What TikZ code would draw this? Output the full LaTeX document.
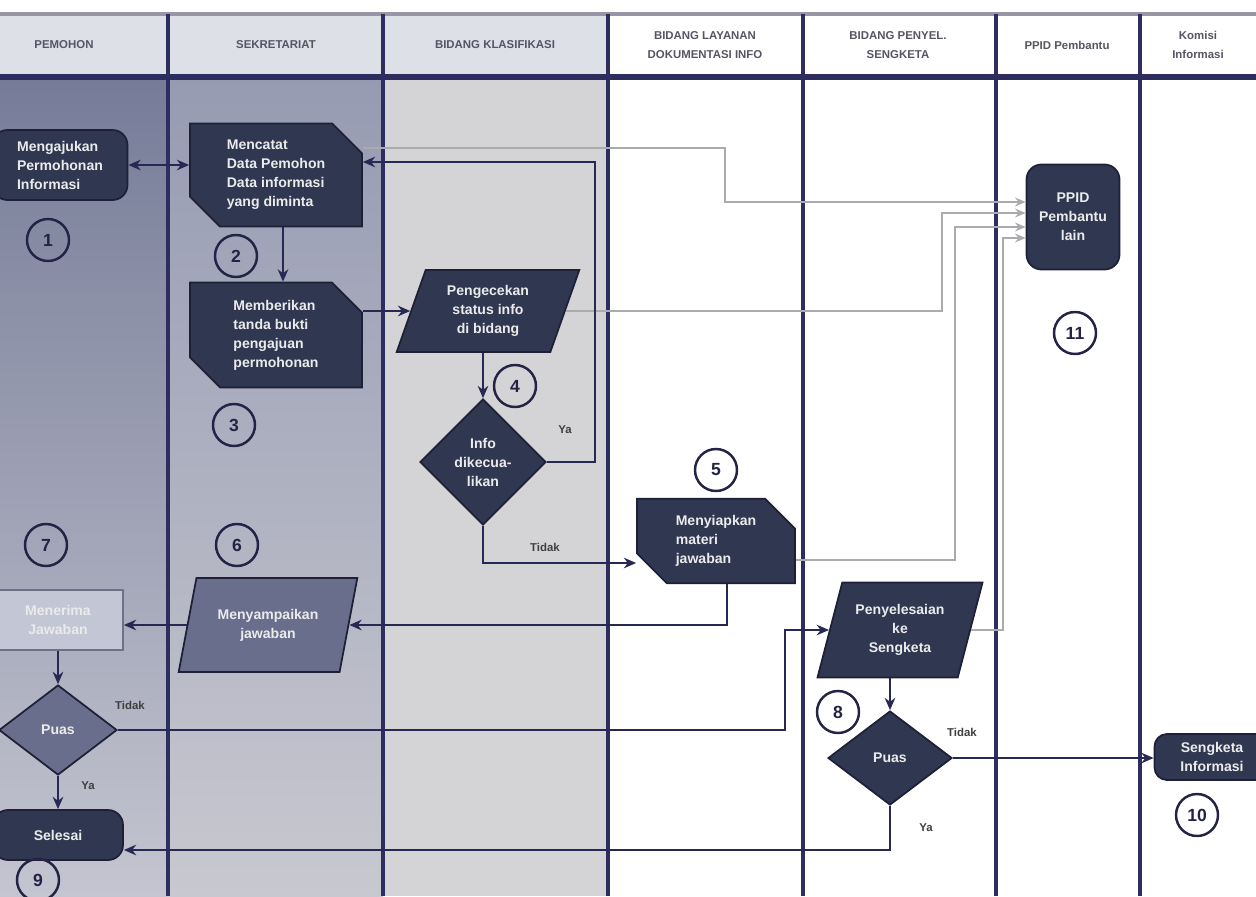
\documentclass[tikz,border=0pt]{standalone}
\usepackage{fontspec}
\setmainfont{Liberation Sans}
\usetikzlibrary{shapes.geometric,shapes.misc,arrows.meta,calc}
\definecolor{lanec}{RGB}{45,45,95}
\definecolor{nodefill}{RGB}{48,55,80}
\definecolor{nodeline}{RGB}{30,32,55}
\definecolor{flowc}{RGB}{40,40,85}
\definecolor{auxc}{RGB}{170,170,175}
\definecolor{hdrtext}{RGB}{85,85,100}
\definecolor{numc}{RGB}{35,35,70}
\definecolor{lightfill}{RGB}{195,198,212}
\definecolor{lightline}{RGB}{110,112,135}
\definecolor{midfill}{RGB}{105,110,140}
\definecolor{pemtop}{RGB}{118,124,152}
\definecolor{pembot}{RGB}{196,197,208}
\definecolor{sektop}{RGB}{150,155,178}
\definecolor{sekbot}{RGB}{200,200,208}
\definecolor{klasbg}{RGB}{212,212,214}
\definecolor{hdrbg}{RGB}{222,224,232}
\definecolor{topline}{RGB}{150,150,165}
\tikzset{
  dnode/.style={draw=nodeline, fill=nodefill, text=white!92!black, align=center,
    font=\fontsize{8}{10.8}\selectfont\bfseries, inner sep=1pt, line width=1pt},
  roundbox/.style={dnode, rectangle, rounded corners=0.3cm},
  snipbox/.style={dnode, align=left, chamfered rectangle, chamfered rectangle corners={north east,south west},
    chamfered rectangle xsep=0.3cm, chamfered rectangle ysep=0.3cm},
  para/.style={dnode, trapezium, trapezium left angle=70, trapezium right angle=110,
    trapezium stretches=true},
  decide/.style={dnode, diamond, inner sep=0pt},
  num/.style={circle, draw=numc, line width=1.4pt, minimum size=0.84cm, inner sep=0pt,
    font=\fontsize{10}{11}\selectfont\bfseries, text=numc},
  hdr/.style={align=center, text=hdrtext, font=\fontsize{6.5}{11}\selectfont\bfseries},
  lbl/.style={text=black!75, font=\fontsize{6.5}{8}\selectfont\bfseries},
  line/.style={line width=1.4pt, draw=flowc},
  arr/.style={line, -{Stealth[length=7pt,width=6pt]}},
  barr/.style={line, {Stealth[length=7pt,width=6pt]}-{Stealth[length=7pt,width=6pt]}},
  aux/.style={line width=1.2pt, draw=auxc, -{Stealth[length=6pt,width=5pt]}}
}
\begin{document}
\begin{tikzpicture}[x=0.02cm,y=-0.02cm]
\useasboundingbox (0,0) rectangle (1256,896);
% lane backgrounds
\shade[top color=pemtop, bottom color=pembot] (0,76) rectangle (168,896);
\shade[top color=sektop, bottom color=sekbot] (168,76) rectangle (383,896);
\fill[klasbg] (383,76) rectangle (608,896);
% header
\fill[hdrbg] (0,14) rectangle (608,76);
\draw[line width=2pt, draw=topline] (0,14) -- (1256,14);
\draw[line width=3pt, draw=lanec] (0,77) -- (1256,77);
\foreach \xx in {168,383,608,803,996,1140}
  \draw[line width=1.8pt, draw=lanec] (\xx,14) -- (\xx,896);
\node[hdr] (h1) at (64,45) {PEMOHON};
\node[hdr] (h2) at (276,45) {SEKRETARIAT};
\node[hdr] (h3) at (495,45) {BIDANG KLASIFIKASI};
\node[hdr] (h4) at (705,45) {BIDANG LAYANAN\\DOKUMENTASI INFO};
\node[hdr] (h5) at (898,45) {BIDANG PENYEL.\\SENGKETA};
\node[hdr] (h6) at (1067,45) {PPID Pembantu};
\node[hdr] (h7) at (1198,45) {Komisi\\Informasi};
% nodes
\node[roundbox, align=left, minimum width=2.7cm, minimum height=1.4cm] (n1) at (60,165) {Mengajukan\\Permohonan\\Informasi};
\node[snipbox, minimum width=3.44cm, minimum height=1.88cm] (n2) at (276,175) {Mencatat\\Data Pemohon\\Data informasi\\yang diminta};
\node[snipbox, minimum width=3.44cm, minimum height=2.1cm] (n3) at (276,335) {Memberikan\\tanda bukti\\pengajuan\\permohonan};
\node[para, minimum width=3.66cm, minimum height=1.64cm] (p4) at (488,311) {Pengecekan\\status info\\di bidang};
\node[decide, minimum width=2.52cm, minimum height=2.52cm] (d1) at (483,462) {Info\\dikecua-\\likan};
\node[snipbox, minimum width=3.16cm, minimum height=1.66cm] (n5) at (716,541) {Menyiapkan\\materi\\jawaban};
\node[para, fill=midfill, minimum width=3.6cm, minimum height=1.88cm] (n6) at (268,625) {Menyampaikan\\jawaban};
\node[dnode, rectangle, fill=lightfill, draw=lightline, minimum width=2.6cm, minimum height=1.2cm] (n7) at (58,620) {Menerima\\Jawaban};
\node[decide, fill=midfill, minimum width=2.36cm, minimum height=1.8cm] (d7) at (58,730) {Puas};
\node[roundbox, minimum width=2.6cm, minimum height=1.0cm] (sel) at (58,835) {Selesai};
\node[para, minimum width=3.32cm, minimum height=1.9cm] (p8) at (900,630) {Penyelesaian\\ke\\Sengketa};
\node[decide, minimum width=2.48cm, minimum height=1.88cm] (d8) at (890,758) {Puas};
\node[roundbox, rounded corners=0.25cm, minimum width=2.3cm, minimum height=0.92cm] (kom) at (1212,757) {Sengketa\\Informasi};
\node[roundbox, minimum width=1.86cm, minimum height=2.1cm] (ppid) at (1073,217) {PPID\\Pembantu\\lain};
% numbers
\node[num] (c1) at (48,240) {1};
\node[num] (c2) at (236,256) {2};
\node[num] (c3) at (234,425) {3};
\node[num] (c4) at (515,386) {4};
\node[num] (c5) at (716,470) {5};
\node[num] (c6) at (237,545) {6};
\node[num] (c7) at (46,545) {7};
\node[num] (c8) at (838,712) {8};
\node[num] (c9) at (38,880) {9};
\node[num] (c10) at (1197,815) {10};
\node[num] (c11) at (1075,333) {11};
% labels
\node[lbl] (l1) at (565,430) {Ya};
\node[lbl] (l2) at (545,547) {Tidak};
\node[lbl] (l3) at (130,705) {Tidak};
\node[lbl] (l4) at (88,786) {Ya};
\node[lbl] (l5) at (962,732) {Tidak};
\node[lbl] (l6) at (926,828) {Ya};
% auxiliary grey links to PPID Pembantu
\draw[aux] (n2.east |- 0,148) -| (725,175) |- (ppid.west |- 0,202);
\draw[aux] (p4.east) -| (942,260) |- (ppid.west |- 0,213);
\draw[aux] (n5.east |- 0,560) -| (955,400) |- (ppid.west |- 0,227);
\draw[aux] (p8.east) -| (1003,400) |- (ppid.west |- 0,238);
% main flow
\draw[barr] (n1.east |- 0,165) -- (n2.west |- 0,165);
\draw[arr] (n2.south -| 283,0) -- (n3.north -| 283,0);
\draw[arr] (n3.east |- p4.west) -- (p4.west);
\draw[arr] (p4.south -| d1.north) -- (d1.north);
\draw[arr] (d1.east) -| (595,300) |- (n2.east |- 0,162);
\draw[arr] (d1.south) |- (n5.west |- 0,563);
\draw[arr] (n5.south -| 727,0) |- (n6.east);
\draw[arr] (n6.west) -- (n7.east |- n6.west);
\draw[arr] (n7.south) -- (d7.north);
\draw[arr] (d7.east) -| (785,680) |- (p8.west);
\draw[arr] (d7.south) -- (sel.north);
\draw[arr] (p8.south -| d8.north) -- (d8.north);
\draw[arr] (d8.east) -- (kom.west |- d8.east);
\draw[arr] (d8.south) |- (sel.east |- 0,850);
\end{tikzpicture}
\end{document}
